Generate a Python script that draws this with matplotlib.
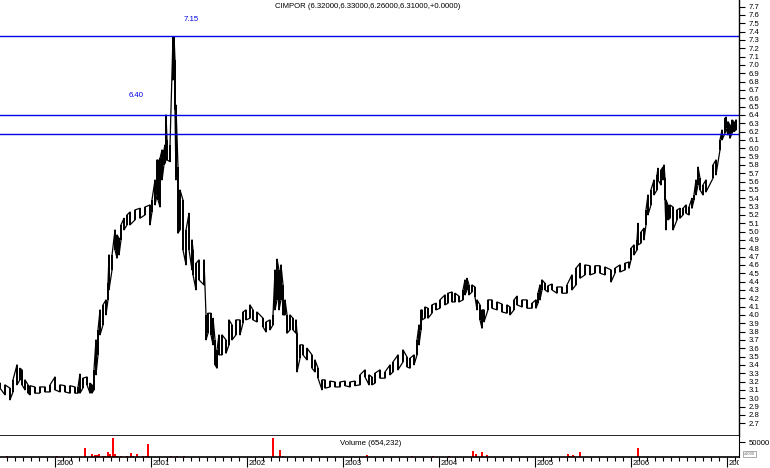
import numpy as np
import matplotlib
matplotlib.use("Agg")
import matplotlib.pyplot as plt
from matplotlib.ticker import FixedLocator, NullFormatter

plt.rcParams['font.family'] = ['Liberation Sans', 'DejaVu Sans']

# ---------------- data (fractional years, prices) ----------------
dates = [1999.427, 1999.479, 1999.531, 1999.5625, 1999.604, 1999.635, 1999.656, 1999.6875, 1999.719, 1999.74,
         1999.79, 1999.84, 1999.896, 1999.948, 2000.0, 2000.052, 2000.104, 2000.156, 2000.208, 2000.24,
         2000.26, 2000.29, 2000.333, 2000.365, 2000.385, 2000.406, 2000.427, 2000.448, 2000.469, 2000.5,
         2000.531, 2000.552, 2000.5625, 2000.594, 2000.625, 2000.646, 2000.667, 2000.6875, 2000.719, 2000.75,
         2000.781, 2000.833, 2000.885, 2000.9375, 2000.99, 2001.01, 2001.042, 2001.0625, 2001.073, 2001.094,
         2001.115, 2001.135, 2001.146, 2001.156, 2001.167, 2001.198, 2001.229, 2001.24, 2001.25, 2001.26,
         2001.281, 2001.302, 2001.333, 2001.365, 2001.396, 2001.427, 2001.4375, 2001.469, 2001.5, 2001.552,
         2001.573, 2001.594, 2001.625, 2001.646, 2001.667, 2001.6875, 2001.708, 2001.74, 2001.781, 2001.8125,
         2001.844, 2001.885, 2001.927, 2001.958, 2001.99, 2002.031, 2002.0625, 2002.104, 2002.167, 2002.198,
         2002.24, 2002.271, 2002.292, 2002.3125, 2002.333, 2002.354, 2002.375, 2002.396, 2002.417, 2002.448,
         2002.479, 2002.51, 2002.521, 2002.552, 2002.583, 2002.625, 2002.677, 2002.708, 2002.74, 2002.781,
         2002.8125, 2002.865, 2002.917, 2002.969, 2003.021, 2003.073, 2003.125, 2003.177, 2003.229, 2003.271,
         2003.302, 2003.333, 2003.385, 2003.4375, 2003.49, 2003.521, 2003.573, 2003.625, 2003.667, 2003.698,
         2003.74, 2003.771, 2003.792, 2003.8125, 2003.823, 2003.854, 2003.885, 2003.927, 2003.969, 2004.01,
         2004.0625, 2004.094, 2004.135, 2004.167, 2004.208, 2004.25, 2004.271, 2004.292, 2004.3125, 2004.344,
         2004.375, 2004.396, 2004.427, 2004.448, 2004.469, 2004.51, 2004.552, 2004.604, 2004.656, 2004.708,
         2004.74, 2004.781, 2004.8125, 2004.865, 2004.917, 2004.969, 2005.01, 2005.031, 2005.052, 2005.073,
         2005.104, 2005.135, 2005.177, 2005.229, 2005.281, 2005.333, 2005.385, 2005.427, 2005.469, 2005.521,
         2005.573, 2005.625, 2005.677, 2005.729, 2005.792, 2005.833, 2005.885, 2005.9375, 2005.979, 2006.0,
         2006.031, 2006.0625, 2006.073, 2006.104, 2006.135, 2006.156, 2006.177, 2006.208, 2006.24, 2006.271,
         2006.281, 2006.3125, 2006.333, 2006.344, 2006.354, 2006.365, 2006.385, 2006.406, 2006.4375, 2006.479,
         2006.51, 2006.542, 2006.573, 2006.604, 2006.635, 2006.656, 2006.677, 2006.698, 2006.719, 2006.75,
         2006.781, 2006.854, 2006.885, 2006.927, 2006.948, 2006.979, 2006.99, 2007.01, 2007.031, 2007.052,
         2007.073, 2007.094]

highs = [3.18, 3.16, 3.12, 3.22, 3.40, 3.36, 3.34, 3.22, 3.16, 3.15,
         3.135, 3.135, 3.135, 3.16, 3.255, 3.16, 3.15, 3.15, 3.135, 3.135,
         3.29, 3.24, 3.255, 3.18, 3.16, 3.34, 3.70, 3.82, 4.06, 4.12,
         4.18, 4.38, 4.72, 4.72, 5.02, 4.96, 4.92, 5.08, 5.16, 5.20,
         5.235, 5.26, 5.28, 5.295, 5.32, 5.38, 5.62, 5.86, 5.86, 5.88,
         5.98, 5.98, 6.04, 6.40, 6.10, 6.04, 7.34, 7.34, 7.06, 6.52,
         5.775, 5.50, 5.38, 5.02, 5.22, 4.90, 4.78, 4.62, 4.66, 4.66,
         4.00, 4.02, 4.02, 3.96, 3.70, 3.58, 3.76, 3.76, 3.70, 3.94,
         3.88, 3.94, 3.94, 4.035, 4.06, 4.12, 4.06, 4.035, 3.96, 3.915,
         3.94, 4.00, 4.54, 4.67, 4.54, 4.60, 4.36, 4.18, 4.00, 4.00,
         3.96, 3.94, 3.78, 3.64, 3.64, 3.60, 3.52, 3.46, 3.36, 3.22,
         3.22, 3.205, 3.195, 3.195, 3.205, 3.195, 3.205, 3.28, 3.34, 3.28,
         3.255, 3.30, 3.34, 3.315, 3.40, 3.435, 3.52, 3.58, 3.495, 3.48,
         3.52, 3.70, 3.88, 4.06, 4.06, 4.095, 4.08, 4.12, 4.14, 4.18,
         4.24, 4.26, 4.275, 4.26, 4.225, 4.30, 4.42, 4.44, 4.36, 4.36,
         4.335, 4.18, 4.12, 4.06, 4.06, 4.18, 4.18, 4.155, 4.13, 4.12,
         4.095, 4.18, 4.225, 4.18, 4.18, 4.14, 4.18, 4.26, 4.36, 4.42,
         4.38, 4.35, 4.37, 4.335, 4.335, 4.36, 4.48, 4.56, 4.62, 4.60,
         4.59, 4.59, 4.59, 4.575, 4.54, 4.56, 4.60, 4.62, 4.635, 4.80,
         4.84, 4.90, 5.10, 4.995, 5.04, 5.26, 5.44, 5.50, 5.62, 5.68,
         5.76, 5.74, 5.775, 5.80, 5.64, 5.38, 5.32, 5.32, 5.295, 5.26,
         5.28, 5.28, 5.32, 5.295, 5.40, 5.44, 5.62, 5.775, 5.64, 5.56,
         5.62, 5.80, 5.86, 6.10, 6.22, 6.36, 6.375, 6.32, 6.28, 6.34,
         6.32, 6.34]

lows = [3.12, 3.04, 2.98, 3.075, 3.16, 3.22, 3.16, 3.10, 3.06, 3.04,
        3.06, 3.06, 3.075, 3.075, 3.10, 3.075, 3.075, 3.06, 3.06, 3.06,
        3.06, 3.12, 3.16, 3.06, 3.06, 3.10, 3.28, 3.52, 3.76, 3.88,
        4.00, 4.18, 4.30, 4.54, 4.78, 4.68, 4.72, 4.90, 5.02, 5.08,
        5.08, 5.14, 5.16, 5.20, 5.08, 5.235, 5.32, 5.44, 5.38, 5.295,
        5.62, 5.80, 5.82, 5.86, 5.86, 5.84, 6.82, 6.88, 6.46, 5.62,
        4.98, 5.02, 4.78, 4.60, 4.78, 4.54, 4.48, 4.30, 4.42, 4.36,
        3.70, 3.78, 3.76, 3.64, 3.40, 3.36, 3.52, 3.52, 3.54, 3.64,
        3.70, 3.76, 3.76, 3.90, 3.94, 3.96, 3.94, 3.915, 3.855, 3.795,
        3.82, 3.88, 4.06, 4.18, 4.06, 4.18, 4.00, 4.00, 3.78, 3.82,
        3.82, 3.78, 3.315, 3.48, 3.52, 3.46, 3.36, 3.315, 3.24, 3.10,
        3.12, 3.135, 3.135, 3.135, 3.15, 3.135, 3.15, 3.16, 3.255, 3.16,
        3.16, 3.18, 3.24, 3.24, 3.28, 3.315, 3.34, 3.435, 3.375, 3.36,
        3.40, 3.52, 3.64, 3.82, 3.94, 3.96, 3.96, 4.02, 4.06, 4.08,
        4.12, 4.14, 4.155, 4.155, 4.155, 4.18, 4.24, 4.30, 4.24, 4.275,
        4.215, 4.06, 3.94, 3.84, 3.915, 4.06, 4.08, 4.06, 4.035, 4.02,
        4.00, 4.06, 4.12, 4.095, 4.08, 4.08, 4.08, 4.14, 4.18, 4.30,
        4.30, 4.275, 4.30, 4.26, 4.26, 4.26, 4.30, 4.36, 4.44, 4.48,
        4.48, 4.50, 4.50, 4.48, 4.395, 4.50, 4.515, 4.54, 4.56, 4.66,
        4.72, 4.78, 4.84, 4.86, 4.90, 5.08, 5.20, 5.32, 5.44, 5.50,
        5.62, 5.56, 5.62, 5.64, 5.38, 5.02, 5.14, 5.16, 5.02, 5.14,
        5.16, 5.20, 5.22, 5.20, 5.28, 5.38, 5.44, 5.56, 5.50, 5.44,
        5.475, 5.64, 5.68, 5.98, 6.10, 6.18, 6.24, 6.16, 6.12, 6.18,
        6.20, 6.22]

vol_dates = [1999.5, 2000.02, 2000.3125, 2000.385, 2000.417, 2000.4375, 2000.458, 2000.5, 2000.52,
             2000.552, 2000.573, 2000.604, 2000.625, 2000.646, 2000.6875, 2000.75, 2000.79, 2000.8125,
             2000.854, 2000.917, 2000.948, 2000.969, 2001.208, 2001.271, 2001.344, 2002.271, 2002.344,
             2002.375, 2003.25, 2003.719, 2003.9375, 2004.104, 2004.354, 2004.385, 2004.448, 2004.5,
             2005.344, 2005.365, 2005.396, 2005.41, 2005.469, 2006.073]
vol_values = [3000, 2000, 32000, 10000, 6400, 6400, 10000, 3800, 3800,
              18000, 10000, 64000, 10000, 4000, 2000, 2000, 12800, 4000,
              10000, 2000, 2000, 45000, 2000, 2000, 2000, 64000, 25000,
              3000, 6400, 2000, 2000, 2000, 22000, 10000, 18000, 6400,
              10000, 4000, 6400, 3800, 18000, 29500]

level_lines = [7.35, 6.40, 6.17]
annotations = [(2001.417, 7.54, "7.15"), (2000.844, 6.63, "6.40")]
years = [2000, 2001, 2002, 2003, 2004, 2005, 2006, 2007]
price_ticks = [round(v / 10, 1) for v in range(27, 78)]
title = "CIMPOR (6.32000,6.33000,6.26000,6.31000,+0.0000)"
vol_label = "Volume (654,232)"

# ---------------- layout ----------------
W, H = 770, 468
fig = plt.figure(figsize=(W / 100, H / 100), dpi=100)

def px_axes(x0, y0, x1, y1):
    return fig.add_axes([x0 / W, 1 - y1 / H, (x1 - x0) / W, (y1 - y0) / H])

ax = px_axes(0, 0, 739, 436)
axv = px_axes(0, 436, 739, 457)
axd = px_axes(0, 457, 739, 468)

XMIN, XMAX = 1999.427, 2007.125
FS = 5.6
BLUE = '#0000e6'

# price panel: high-low bars joined by a zigzag through the same points
d = np.array(dates)
hi = np.array(highs)
lo = np.array(lows)
ax.vlines(d, lo, hi, color='black', lw=1.4)
zx = np.repeat(d, 2)
zy = np.empty(2 * len(d))
zy[0::4] = hi[0::2]
zy[1::4] = lo[0::2]
zy[2::4] = lo[1::2]
zy[3::4] = hi[1::2]
ax.plot(zx, zy, color='black', lw=0.9)
for lv in level_lines:
    ax.axhline(lv, color=BLUE, lw=1.0)
for x, y, t in annotations:
    ax.text(x, y, t, color=BLUE, fontsize=FS, ha='center', va='center')
ax.set_xlim(XMIN, XMAX)
ax.set_ylim(2.546, 7.78)
for s in ['top', 'left']:
    ax.spines[s].set_visible(False)
ax.spines['right'].set_linewidth(1.0)
ax.spines['bottom'].set_linewidth(1.2)
ax.set_xticks([])
ax.yaxis.tick_right()
ax.set_yticks(price_ticks)
ax.set_yticklabels([f"{v:.1f}" for v in price_ticks])
ax.tick_params(axis='y', direction='out', length=4, width=0.8, labelsize=FS, pad=3)

# volume panel
axv.bar(vol_dates, vol_values, width=0.014, color='#ff0000', linewidth=0)
axv.set_xlim(XMIN, XMAX)
axv.set_ylim(0, 72000)
axv.spines['top'].set_visible(False)
axv.spines['left'].set_visible(False)
axv.spines['bottom'].set_linewidth(1.2)
axv.yaxis.tick_right()
axv.set_yticks([50000])
axv.set_yticklabels(["50000"])
axv.tick_params(axis='y', direction='out', length=4, width=0.8, labelsize=FS, pad=3)
axv.xaxis.set_major_locator(FixedLocator(years))
minors = [y + m / 12 for y in range(1999, 2008) for m in range(1, 12)]
axv.xaxis.set_minor_locator(FixedLocator(minors))
axv.xaxis.set_major_formatter(NullFormatter())
axv.tick_params(axis='x', which='major', direction='out', length=7.5, width=0.8)
axv.tick_params(axis='x', which='minor', direction='out', length=3, width=0.8)
axv.text(2002.969, 0.62, vol_label, transform=axv.get_xaxis_transform(),
         fontsize=FS, ha='left', va='center')

# date label strip
axd.set_xlim(XMIN, XMAX)
axd.set_ylim(0, 1)
axd.axis('off')
for y in years:
    axd.text(y + 0.012, 0.45, str(y), fontsize=FS, ha='left', va='center', clip_on=True)

fig.text(275 / W, 1 - 6 / H, title, fontsize=FS, ha='left', va='center')
fig.text(744 / W, 1 - 454 / H, "x1000", fontsize=3, ha='left', va='center', color='#666666',
         bbox=dict(boxstyle='square,pad=0.15', fc='white', ec='#888888', lw=0.5))

fig.savefig("out.png", dpi=100)
